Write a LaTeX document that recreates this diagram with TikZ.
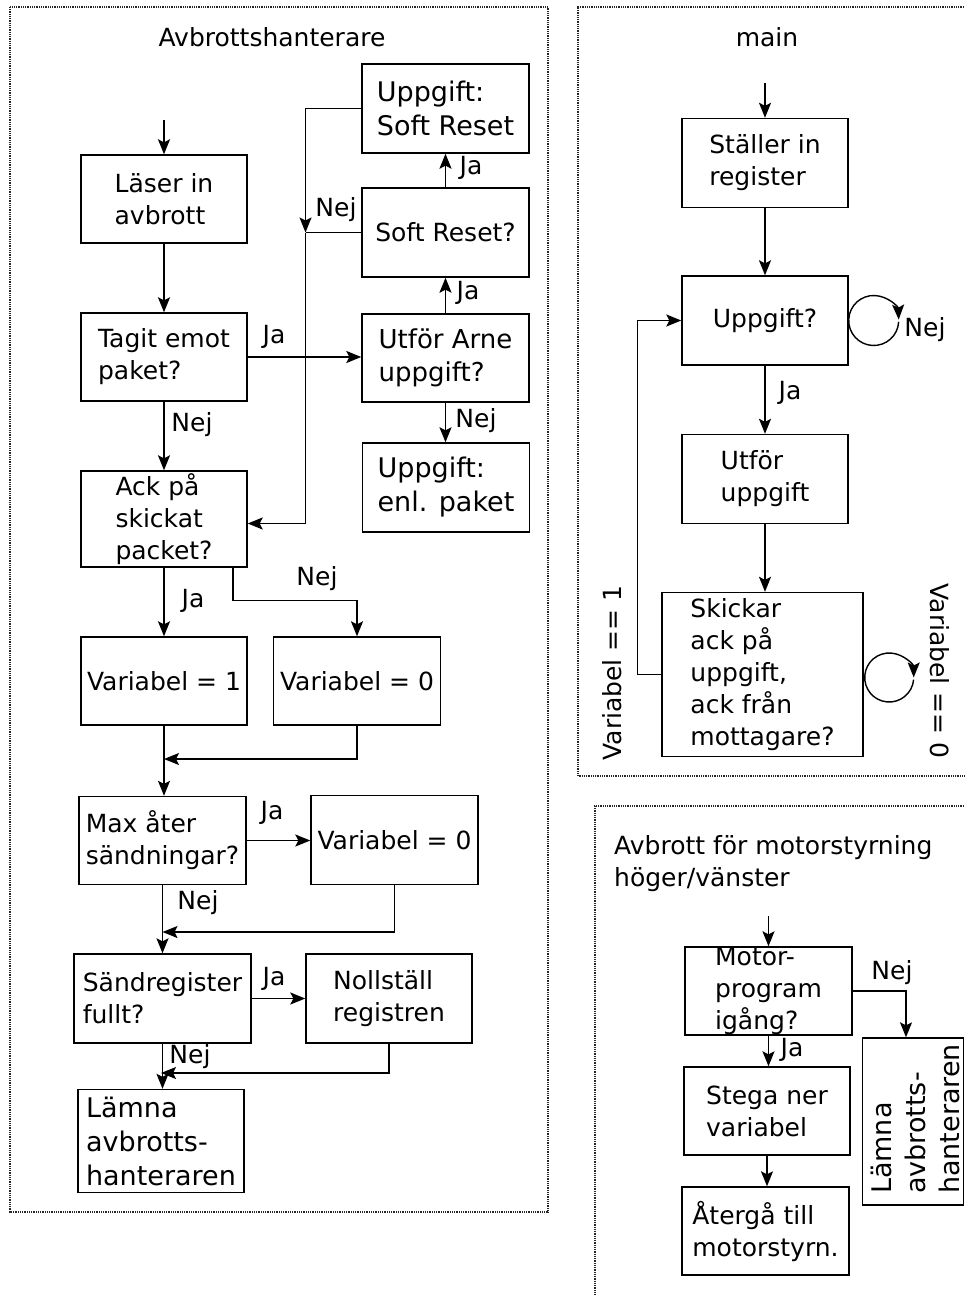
\documentclass[tikz,border=0pt]{standalone}
\usepackage{fontspec}
\setmainfont{DejaVu Sans}
\usetikzlibrary{arrows.meta,calc}
\begin{document}
\begin{tikzpicture}[x=1pt,y=1pt,
  box/.style={draw, line width=1.4pt, rectangle, inner sep=0pt, align=left, font=\fontsize{25}{32}\selectfont},
  bigf/.style={font=\fontsize{27}{34}\selectfont},
  midf/.style={font=\fontsize{26}{33}\selectfont},
  arr/.style={line width=1.4pt, -{Stealth[length=15pt,width=12pt,inset=3pt]}},
  ln/.style={line width=1.4pt},
  lbl/.style={inner sep=0pt, font=\fontsize{25}{32}\selectfont},
  panel/.style={line width=1.1pt, black!85, dash pattern=on 0.9pt off 0.9pt},
]
\useasboundingbox (0,0) rectangle (964,-1295);

% panels
\draw[panel] (10,-7) rectangle (548,-1212);
\draw[panel] (964,-7) -- (578,-7) -- (578,-776) -- (964,-776);
\draw[panel] (964,-806) -- (595,-806) -- (595,-1295);

% titles
\node[lbl] (t1) at (272,-37) {Avbrottshanterare};
\node[lbl] (t2) at (767,-37.5) {main};
\node[lbl, align=left, anchor=north west] (t3) at (614,-835) {Avbrott för motorstyrning\\höger/vänster};

% ---- left panel ----
\node[box, minimum width=166, minimum height=88] (read) at (164,-199) {Läser in\\avbrott};
\node[box, minimum width=166, minimum height=88] (tagit) at (164,-357) {Tagit emot\\paket?};
\node[box, midf, minimum width=167, minimum height=88] (utfor) at (445.5,-358) {Utför Arne\\uppgift?};
\node[box, minimum width=167, minimum height=89] (softq) at (445.5,-232.5) {Soft Reset?};
\node[box, bigf, minimum width=167, minimum height=89] (softt) at (445.5,-108.5) {Uppgift:\\Soft Reset};
\node[box, bigf, minimum width=167, minimum height=89] (enl) at (446,-487.5) {Uppgift:\\enl. paket};
\node[box, minimum width=166, minimum height=96] (ack) at (164,-519) {Ack på\\skickat\\packet?};
\node[box, minimum width=166, minimum height=88] (var1) at (164,-681) {Variabel = 1};
\node[box, minimum width=167, minimum height=88] (var0) at (357,-681) {Variabel = 0};
\node[box, minimum width=167, minimum height=88] (maxs) at (162.5,-840.5) {Max åter\\sändningar?};
\node[box, minimum width=167, minimum height=89] (var0b) at (394.5,-840) {Variabel = 0};
\node[box, minimum width=177, minimum height=89] (sand) at (162.5,-998.5) {Sändregister\\fullt?};
\node[box, minimum width=166, minimum height=89] (noll) at (389,-998.5) {Nollställ\\registren};
\node[box, bigf, minimum width=166, minimum height=103] (lamna) at (161,-1141) {Lämna\\avbrotts-\\hanteraren};

\coordinate (s1) at (164,-120);
\draw[arr] (s1) -- (read.north);
\draw[arr] (read.south) -- (tagit.north);
\draw[arr] (tagit.east) -- (tagit.east -| utfor.west);
\draw[arr] (utfor.north) -- (softq.south);
\draw[arr] (softq.north) -- (softt.south);
\coordinate (j1) at (305.5,-232.5);
\draw[arr] (softt.west) -| (j1);
\draw[ln] (softq.west) -- (j1);
\draw[arr] (j1) |- ([yshift=-4.5]ack.east);
\draw[arr] (utfor.south) -- (utfor.south |- enl.north);
\draw[arr] (tagit.south) -- (ack.north);
\draw[arr] (ack.south) -- (var1.north);
\draw[arr] ([xshift=69]ack.south) -- ++(0,-33) -| (var0.north);
\coordinate (m1) at (164,-759);
\draw[arr] (var1.south) -- (var1.south |- maxs.north);
\draw[arr] (var0.south) |- (m1);
\draw[arr] (maxs.east) -- (maxs.east -| var0b.west);
\coordinate (m2) at (162.5,-932);
\draw[arr] (maxs.south) -- (maxs.south |- sand.north);
\draw[arr] (var0b.south) |- (m2);
\draw[arr] (sand.east) -- (sand.east -| noll.west);
\coordinate (m3) at (161,-1073);
\draw[arr] (sand.south) -- (sand.south |- lamna.north);
\draw[arr] (noll.south) |- (m3);

\node[lbl] (l1) at (274,-337) {Ja};
\node[lbl] (l2) at (468,-293) {Ja};
\node[lbl] (l3) at (476,-421) {Nej};
\node[lbl] (l4) at (471,-168) {Ja};
\node[lbl] (l5) at (336,-210) {Nej};
\node[lbl] (l6) at (192,-425) {Nej};
\node[lbl] (l7) at (193,-601) {Ja};
\node[lbl] (l8) at (317,-579) {Nej};
\node[lbl] (l9) at (272,-813) {Ja};
\node[lbl] (l10) at (198,-903) {Nej};
\node[lbl] (l11) at (274,-979) {Ja};
\node[lbl] (l12) at (190,-1057) {Nej};

% ---- main panel ----
\node[box, minimum width=166, minimum height=89] (stall) at (765,-163) {Ställer in\\register};
\node[box, minimum width=166, minimum height=89] (uppg) at (765,-320.5) {Uppgift?};
\node[box, minimum width=166, minimum height=89] (utf) at (765,-479) {Utför\\uppgift};
\node[box, minimum width=201, minimum height=164] (skick) at (762.5,-674.5) {Skickar\\ack på\\uppgift,\\ack från\\mottagare?};

\coordinate (s2) at (765,-83);
\draw[arr] (s2) -- (stall.north);
\draw[arr] (stall.south) -- (uppg.north);
\draw[arr] (uppg.south) -- (utf.north);
\draw[arr] (utf.south) -- (utf.south |- skick.north);
\draw[arr] (skick.west) -- ++(-24,0) |- (uppg.west);
\draw[arr] ([xshift=25]uppg.east) ++(357:25) arc[start angle=357, end angle=2, radius=25];
\draw[arr] ([xshift=25.5,yshift=-3]skick.east) ++(355:24.5) arc[start angle=355, end angle=0, radius=24.5];

\node[lbl] (l13) at (925,-330) {Nej};
\node[lbl] (l14) at (790,-393) {Ja};
\node[lbl, rotate=90] (l15) at (612,-673) {Variabel == 1};
\node[lbl, rotate=-90] (l16) at (940,-671) {Variabel == 0};

% ---- motor panel ----
\node[box, minimum width=167, minimum height=88] (motor) at (768.5,-991) {Motor-\\program\\igång?};
\node[box, minimum width=166, minimum height=88] (stega) at (767,-1111) {Stega ner\\variabel};
\node[box, minimum width=167, minimum height=88] (ater) at (765.5,-1231) {Återgå till\\motorstyrn.};
\node[box, minimum width=101, minimum height=167] (lamn2) at (913,-1121.5) {};
\node[inner sep=0pt, rotate=90, align=left, bigf] (lamn2t) at (915,-1119) {Lämna\\avbrotts-\\hanteraren};

\coordinate (s3) at (768.5,-916);
\draw[arr] (s3) -- (motor.north);
\draw[arr] (motor.south) -- (motor.south |- stega.north);
\draw[arr] (stega.south) -- (stega.south |- ater.north);
\draw[arr] (motor.east) -| ([xshift=-7]lamn2.north);

\node[lbl] (l17) at (892,-973) {Nej};
\node[lbl] (l18) at (792,-1050) {Ja};
\end{tikzpicture}
\end{document}
